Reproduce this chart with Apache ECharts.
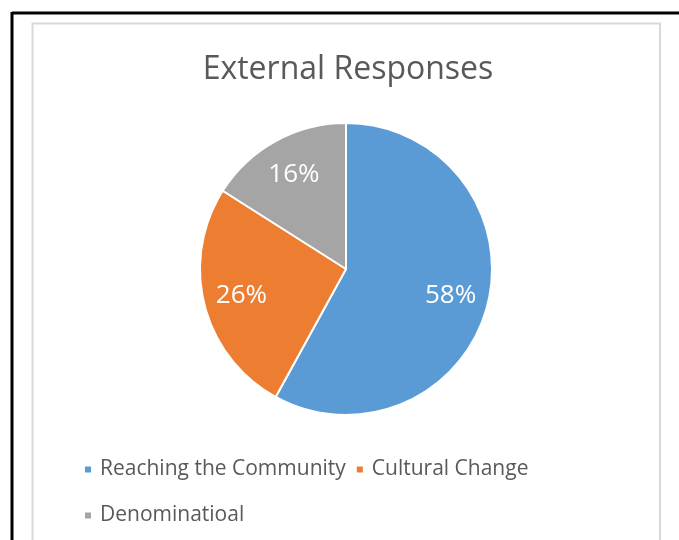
<!DOCTYPE html>
<html><head><meta charset="utf-8">
<script src="https://cdn.jsdelivr.net/npm/echarts@6/dist/echarts.min.js"></script>
<style>html,body{margin:0;padding:0;background:#fff}#c{width:679px;height:540px}</style>
</head><body><div id="c"></div>
<script>
const categories = ['Reaching the Community', 'Cultural Change', 'Denominatioal'];
const values = [58, 26, 16];
const colors = ['#5B9BD5', '#ED7D31', '#A5A5A5'];
const titleText = 'External Responses';

const FONT = '"Open Sans", sans-serif';
const data = categories.map((name, i) => ({ name, value: values[i], itemStyle: { color: colors[i] } }));
const chart = echarts.init(document.getElementById('c'), null, { renderer: 'canvas' });
chart.setOption({
  animation: false,
  backgroundColor: '#fff',
  graphic: [
    { type: 'rect', shape: { x: 32.5, y: 23.5, width: 627.5, height: 600 }, style: { fill: 'none', stroke: '#D9D9D9', lineWidth: 2 }, silent: true, z: -1 },
    { type: 'line', shape: { x1: 12, y1: 13, x2: 679, y2: 13 }, style: { stroke: '#000', lineWidth: 3 }, silent: true },
    { type: 'line', shape: { x1: 12, y1: 12, x2: 12, y2: 540 }, style: { stroke: '#000', lineWidth: 3 }, silent: true }
  ],
  title: {
    text: titleText, left: 343, top: 49, textAlign: 'center',
    textStyle: { fontFamily: FONT, fontSize: 32, fontWeight: 'normal', color: '#595959' }
  },
  legend: {
    data: categories, left: 78, top: 446, width: 520,
    orient: 'horizontal', itemWidth: 8, itemHeight: 8, itemGap: 9,
    icon: 'rect',
    textStyle: { fontFamily: FONT, fontSize: 21, color: '#595959', lineHeight: 37, padding: [0, 0, 0, 3] },
    selectedMode: false
  },
  series: [
    {
      type: 'pie', radius: [0, 146], center: [346, 269], startAngle: 90, clockwise: true,
      data: data, label: { show: false }, labelLine: { show: false },
      itemStyle: { borderColor: '#fff', borderWidth: 2 }, emphasis: { disabled: true }
    },
    {
      type: 'pie', radius: [64, 146], center: [346, 269], startAngle: 90, clockwise: true,
      data: data.map(d => ({ name: d.name, value: d.value, itemStyle: { color: 'rgba(0,0,0,0)' } })),
      silent: true, legendHoverLink: false,
      label: { show: true, position: 'inside', formatter: '{d}%', fontFamily: FONT, fontSize: 26, color: '#fff' },
      labelLine: { show: false }, emphasis: { disabled: true }, z: 3
    }
  ]
});
</script></body></html>
